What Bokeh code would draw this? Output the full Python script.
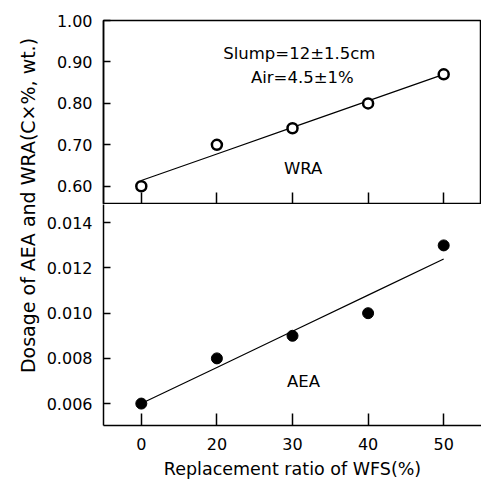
import numpy as np
from bokeh.plotting import figure
from bokeh.models import FactorRange, Range1d, FixedTicker, NumeralTickFormatter, Label
from bokeh.layouts import row, column
from bokeh.embed import file_html
from bokeh.resources import INLINE

# ---- data ----
ratio_labels = ["0", "20", "30", "40", "50"]
wra_dosage = [0.60, 0.70, 0.74, 0.80, 0.87]
aea_dosage = [0.006, 0.008, 0.009, 0.010, 0.013]
wra_ticks = [0.60, 0.70, 0.80, 0.90, 1.00]
aea_ticks = [0.006, 0.008, 0.010, 0.012, 0.014]

idx = np.arange(len(ratio_labels))
wra_fit = np.polyval(np.polyfit(idx, wra_dosage, 1), idx)
aea_fit = np.polyval(np.polyfit(idx, aea_dosage, 1), idx)

FONT = "DejaVu Sans"
TICK_FS = "16px"
TEXT_FS = "16.5px"


def style(p, ticks, fmt):
    p.background_fill_color = "white"
    p.border_fill_color = "white"
    p.outline_line_color = "black"
    p.outline_line_width = 1.5
    p.xgrid.visible = False
    p.ygrid.visible = False
    ya = p.yaxis[0]
    ya.ticker = FixedTicker(ticks=ticks)
    ya.formatter = NumeralTickFormatter(format=fmt)
    ya.major_tick_in = 7
    ya.major_tick_out = 0
    ya.minor_tick_in = 0
    ya.minor_tick_out = 0
    ya.major_tick_line_width = 1.5
    ya.axis_line_width = 1.5
    ya.major_label_standoff = 11
    ya.major_label_text_font = FONT
    ya.major_label_text_font_size = TICK_FS
    ya.major_label_text_color = "black"
    xa = p.xaxis[0]
    xa.major_tick_in = 12
    xa.major_tick_out = 0
    xa.major_tick_line_width = 1.5
    xa.axis_line_width = 1.5
    xa.major_label_text_font = FONT
    xa.major_label_text_font_size = TICK_FS
    xa.major_label_text_color = "black"


# ---- y-axis title strip ----
pt = figure(width=40, height=485, x_range=Range1d(0, 40), y_range=Range1d(0, 485),
            toolbar_location=None, output_backend="svg",
            x_axis_location=None, y_axis_location=None, min_border=0)
pt.outline_line_color = None
pt.grid.visible = False
pt.add_layout(Label(x=27, y=280, text="Dosage of AEA and WRA(C×%, wt.)",
                    angle=90, angle_units="deg", text_align="center",
                    text_baseline="middle", text_font=FONT, text_font_size="19px",
                    text_color="black"))

# ---- top panel (WRA) ----
p1 = figure(width=441, height=204, x_range=FactorRange(factors=ratio_labels),
            y_range=Range1d(0.556, 1.0), toolbar_location=None, output_backend="svg",
            min_border_left=63, min_border_right=0, min_border_top=20, min_border_bottom=0)
style(p1, wra_ticks, "0.00")
p1.xaxis[0].major_label_text_font_size = "0px"
p1.xaxis[0].major_label_text_color = None
p1.xaxis[0].major_label_standoff = 0
p1.line(ratio_labels, wra_fit, line_color="black", line_width=1.2)
p1.scatter(ratio_labels, wra_dosage, size=10, fill_color="white",
           line_color="black", line_width=2.5)
for txt, xx, yy in [("Slump=12±1.5cm", 2.59, 0.921), ("Air=4.5±1%", 2.63, 0.863),
                    ("WRA", 2.64, 0.642)]:
    p1.add_layout(Label(x=xx, y=yy, text=txt, text_align="center", text_baseline="middle",
                        text_font=FONT, text_font_size=TEXT_FS, text_color="black"))

# ---- bottom panel (AEA) ----
p2 = figure(width=441, height=281, x_range=p1.x_range,
            y_range=Range1d(0.00503, 0.01481), toolbar_location=None, output_backend="svg",
            min_border_left=63, min_border_right=0, min_border_top=0, min_border_bottom=60)
style(p2, aea_ticks, "0.000")
p2.outline_line_color = None
p2.xaxis[0].major_label_standoff = 12
p2.xaxis[0].axis_label = "Replacement ratio of WFS(%)"
p2.xaxis[0].axis_label_standoff = 6
p2.xaxis[0].axis_label_text_font = FONT
p2.xaxis[0].axis_label_text_font_size = "17.5px"
p2.xaxis[0].axis_label_text_font_style = "normal"
p2.xaxis[0].axis_label_text_color = "black"
p2.line(ratio_labels, aea_fit, line_color="black", line_width=1.2)
p2.scatter(ratio_labels, aea_dosage, size=11, fill_color="black", line_color="black")
p2.add_layout(Label(x=2.646, y=0.00696, text="AEA", text_align="center",
                    text_baseline="middle", text_font=FONT, text_font_size=TEXT_FS,
                    text_color="black"))

layout = row(pt, column(p1, p2))
open("out.html", "w").write(file_html(layout, INLINE))
